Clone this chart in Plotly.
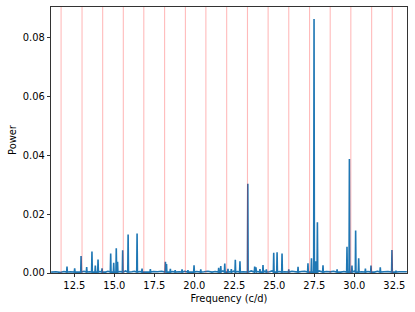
import plotly.graph_objects as go

# Harmonic marker frequencies (c/d)
harmonic_freq = [11.67, 12.98, 14.27, 15.56, 16.84, 18.14, 19.44, 20.72, 22.02,
                 23.32, 24.61, 25.90, 27.20, 28.49, 29.78, 31.08, 32.37]

# Periodogram peaks (frequency in c/d, power)
peak_freq = [12.04, 12.52, 12.92, 13.27, 13.60, 13.81, 13.98, 14.23, 14.77, 14.96,
             15.12, 15.20, 15.52, 15.86, 16.42, 16.73, 17.25, 18.19, 18.26, 18.50,
             18.80, 19.23, 19.60, 19.98, 20.40, 21.52, 21.65, 21.90, 22.10, 22.31,
             22.56, 22.85, 23.34, 23.77, 23.85, 24.10, 24.29, 24.50, 24.96, 25.17,
             25.48, 25.90, 26.48, 27.10, 27.32, 27.48, 27.58, 27.69, 28.04, 28.92,
             29.54, 29.69, 29.85, 30.08, 30.27, 30.69, 31.04, 31.62, 32.35, 32.60]
peak_power = [0.0022, 0.0016, 0.0058, 0.0020, 0.0073, 0.0025, 0.0046, 0.0016, 0.0066, 0.0035,
              0.0084, 0.0038, 0.0077, 0.0131, 0.0134, 0.0015, 0.0013, 0.0038, 0.0030, 0.0014,
              0.0010, 0.0012, 0.0010, 0.0026, 0.0012, 0.0018, 0.0024, 0.0032, 0.0014, 0.0013,
              0.0045, 0.0040, 0.0303, 0.0022, 0.0019, 0.0013, 0.0027, 0.0012, 0.0069, 0.0070,
              0.0066, 0.0012, 0.0021, 0.0033, 0.0050, 0.0862, 0.0040, 0.0172, 0.0026, 0.0012,
              0.0089, 0.0387, 0.0025, 0.0144, 0.0050, 0.0015, 0.0025, 0.0019, 0.0078, 0.0008]

# Noise floor samples between the peaks
floor_freq = [11.05, 11.35, 11.60, 11.85, 12.25, 12.70, 13.10, 13.45, 14.10, 14.45,
              14.60, 15.35, 15.70, 16.10, 16.25, 16.60, 17.00, 17.45, 17.70, 17.95,
              18.65, 19.05, 19.40, 19.80, 20.15, 20.60, 20.85, 21.10, 21.30, 21.78,
              22.20, 22.45, 22.70, 23.05, 23.55, 23.95, 24.40, 24.70, 24.85, 25.30,
              25.65, 26.10, 26.30, 26.70, 26.90, 27.80, 28.25, 28.50, 28.70, 29.15,
              29.35, 29.98, 30.45, 30.85, 31.25, 31.45, 31.85, 32.10, 32.80, 33.05, 33.28]
floor_power = [0.0003, 0.0004, 0.0002, 0.0005, 0.0004, 0.0003, 0.0006, 0.0004, 0.0005, 0.0003,
               0.0006, 0.0005, 0.0007, 0.0004, 0.0006, 0.0005, 0.0003, 0.0005, 0.0004, 0.0006,
               0.0005, 0.0004, 0.0006, 0.0003, 0.0005, 0.0004, 0.0006, 0.0003, 0.0005, 0.0007,
               0.0004, 0.0006, 0.0005, 0.0004, 0.0007, 0.0005, 0.0006, 0.0004, 0.0007, 0.0005,
               0.0004, 0.0006, 0.0003, 0.0005, 0.0006, 0.0007, 0.0005, 0.0004, 0.0006, 0.0003,
               0.0005, 0.0006, 0.0004, 0.0005, 0.0003, 0.0006, 0.0004, 0.0005, 0.0004, 0.0003, 0.0004]

x_ticks = [12.5, 15.0, 17.5, 20.0, 22.5, 25.0, 27.5, 30.0, 32.5]
y_ticks = [0.00, 0.02, 0.04, 0.06, 0.08]

# Build the spectrum line: each peak is a narrow spike rising from the local floor
half_width = 0.022
base = 0.0003
pts = [(f, p) for f, p in zip(floor_freq, floor_power)]
for f, p in zip(peak_freq, peak_power):
    pts += [(f - half_width, base), (f, p), (f + half_width, base)]
pts.sort()
freq = [q[0] for q in pts]
power = [q[1] for q in pts]

FONT = "DejaVu Sans, Arial, sans-serif"

fig = go.Figure()
fig.add_trace(go.Scatter(x=freq, y=power, mode="lines",
                         line=dict(color="#1f77b4", width=1.6),
                         hoverinfo="skip", showlegend=False))

for f in harmonic_freq:
    fig.add_shape(type="line", x0=f, x1=f, y0=0, y1=1, xref="x", yref="paper",
                  line=dict(color="rgba(255,0,0,0.27)", width=1.1), layer="above")

fig.update_layout(
    width=415, height=312,
    margin=dict(l=51, r=8, t=7, b=39, autoexpand=False),
    paper_bgcolor="white", plot_bgcolor="white",
    font=dict(family=FONT, size=9.9, color="black"),
    showlegend=False,
)
fig.update_xaxes(
    range=[11.04, 33.29], tickvals=x_ticks, ticktext=[f"{v:.1f}" for v in x_ticks],
    showgrid=False, zeroline=False, showline=True, linecolor="black", linewidth=0.8,
    mirror=True, ticks="outside", ticklen=3.5, tickwidth=0.8, tickcolor="black",
    automargin=False,
    title=dict(text="Frequency (c/d)", standoff=4, font=dict(size=9.9)),
)
fig.update_yaxes(
    range=[0, 0.0903], tickvals=y_ticks, ticktext=[f"{v:.2f}" for v in y_ticks],
    showgrid=False, zeroline=False, showline=True, linecolor="black", linewidth=0.8,
    mirror=True, ticks="outside", ticklen=3.5, tickwidth=0.8, tickcolor="black",
    automargin=False,
    title=dict(text="Power", standoff=4, font=dict(size=9.9)),
)

fig.write_html("out.html",
               config={"displayModeBar": False, "staticPlot": True},
               post_script="document.body.style.margin='0';document.body.style.overflow='hidden';")
